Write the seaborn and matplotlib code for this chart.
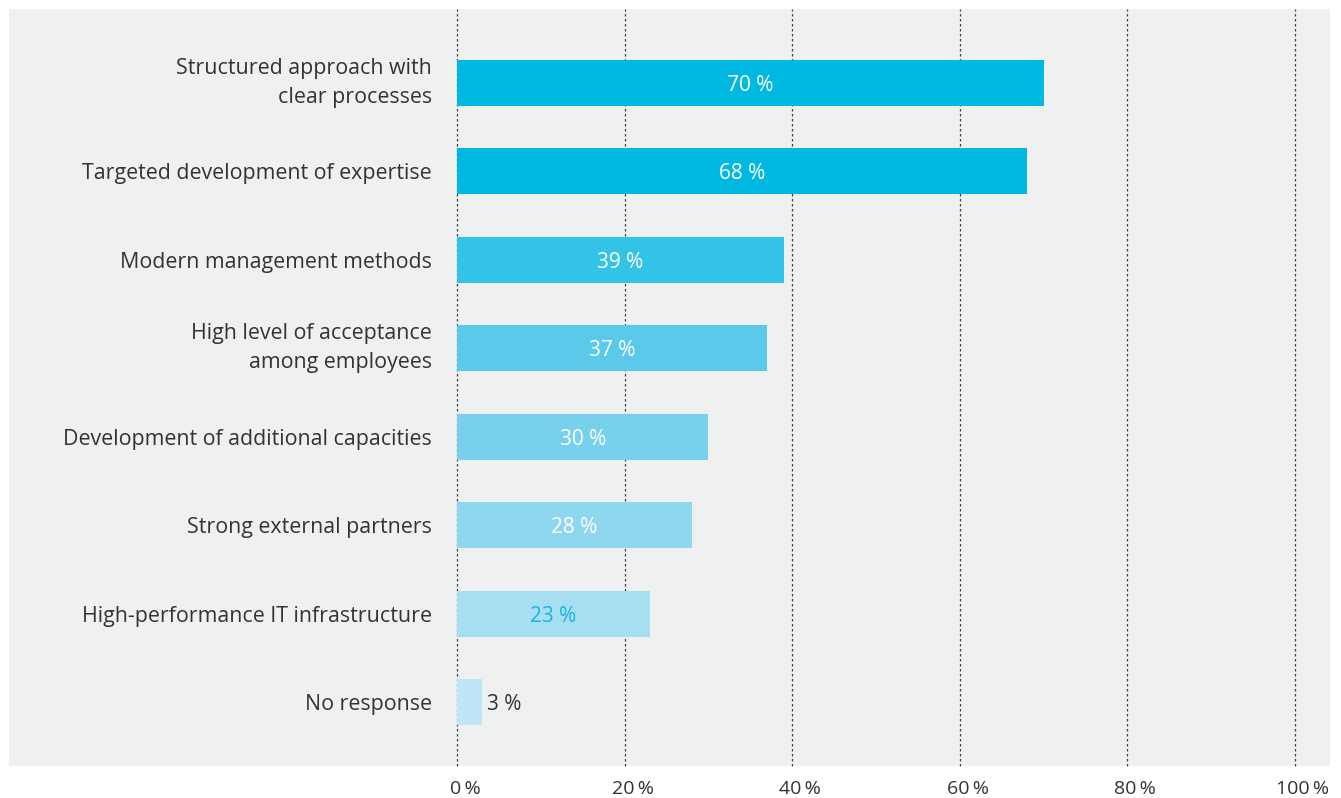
import matplotlib
matplotlib.use("Agg")
import matplotlib.pyplot as plt
import matplotlib.transforms as mtransforms
from matplotlib.patches import Rectangle
import seaborn as sns
import pandas as pd

# Survey results: success factors (share of respondents, %)
categories = [
    "Structured approach with\nclear processes",
    "Targeted development of expertise",
    "Modern management methods",
    "High level of acceptance\namong employees",
    "Development of additional capacities",
    "Strong external partners",
    "High-performance IT infrastructure",
    "No response",
]
values = [70, 68, 39, 37, 30, 28, 23, 3]
bar_colors = ["#00b9e3", "#00b9e3", "#33c3e6", "#5bc9ea",
              "#77d0ec", "#8fd7ef", "#a6def2", "#bfe6f6"]
label_colors = ["white", "white", "white", "white",
                "white", "white", "#19b6e0", "#333333"]
x_ticks = [0, 20, 40, 60, 80, 100]
x_tick_labels = ["0\u2009%", "20\u2009%", "40\u2009%", "60\u2009%", "80\u2009%", "100\u2009%"]

sns.set_theme(style="white")
plt.rcParams["font.family"] = ["Open Sans", "DejaVu Sans"]
text_color = "#333333"

W, H = 1341, 798
fig = plt.figure(figsize=(W / 100, H / 100), dpi=100)
fig.patch.set_facecolor("white")

# light grey panel behind the chart
px_l, px_r, px_t, px_b = 9, 1330, 9, 766
fig.patches.append(Rectangle((px_l / W, 1 - px_b / H), (px_r - px_l) / W, (px_b - px_t) / H,
                             transform=fig.transFigure, facecolor="#eff0f0",
                             edgecolor="none", zorder=-10))

ax_l, ax_r = 457, 1295
ax = fig.add_axes([ax_l / W, 1 - px_b / H, (ax_r - ax_l) / W, (px_b - px_t) / H])
ax.set_zorder(1)
ax.patch.set_alpha(0)

df = pd.DataFrame({"category": categories, "value": values})
sns.barplot(data=df, x="value", y="category", hue="category",
            palette=dict(zip(categories, bar_colors)), legend=False,
            width=0.52, orient="h", saturation=1, linewidth=0,
            edgecolor="none", ax=ax, zorder=3)

ax.set_xlim(0, 100)
ax.set_ylim(7.724, -0.837)

# dashed vertical gridlines
for t in x_ticks:
    ax.axvline(t, color="#404040", linestyle=(0, (2.0, 2.0)), linewidth=0.9,
               zorder=1, clip_on=False)

ax.set_xticks(x_ticks)
ax.set_xticklabels(x_tick_labels)
ax.tick_params(axis="x", length=0, pad=10, labelsize=14, labelcolor=text_color)
ax.tick_params(axis="y", length=0, pad=18, labelsize=15.4, labelcolor=text_color)
shift = mtransforms.ScaledTranslation(8 / 100, 0, fig.dpi_scale_trans)
for lbl in ax.get_xticklabels():
    lbl.set_transform(lbl.get_transform() + shift)
for lbl in ax.get_yticklabels():
    lbl.set_linespacing(1.5)
    if "\n" in lbl.get_text():
        lbl.set_verticalalignment("center")
ax.set_xlabel("")
ax.set_ylabel("")
for s in ax.spines.values():
    s.set_visible(False)

# value labels
for i, (v, c) in enumerate(zip(values, label_colors)):
    txt = f"{v} %"
    if v >= 10:
        ax.text(v / 2, i, txt, ha="center", va="center_baseline", color=c,
                fontsize=15, zorder=4)
    else:
        ax.text(v + 0.6, i, txt, ha="left", va="center_baseline", color=c,
                fontsize=15, zorder=4)

fig.savefig("out.png", dpi=100)
